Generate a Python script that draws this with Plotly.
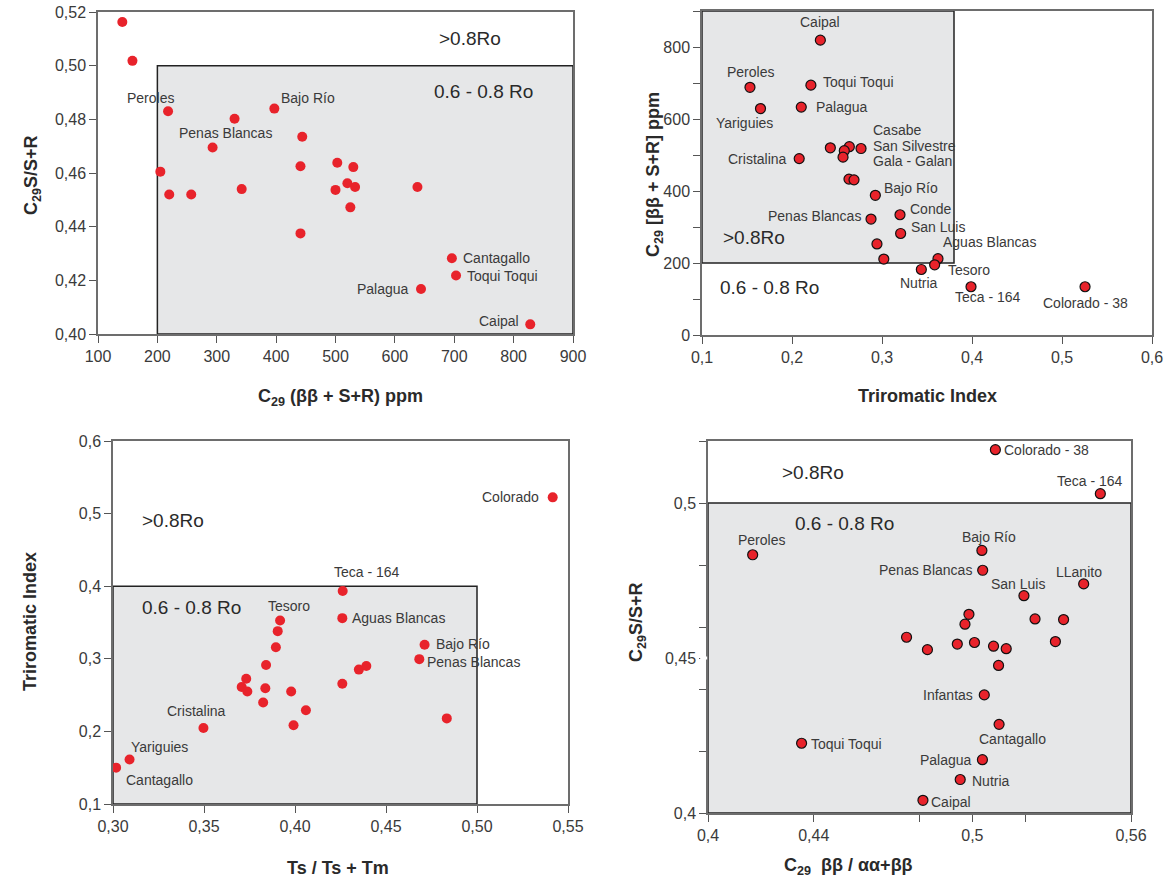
import plotly.graph_objects as go

# ---------------- data ----------------
# Panel 1: C29 (bb + S+R) ppm vs C29 S/S+R
p1_x = [141, 158, 218, 205, 220, 257, 293, 330, 342, 397, 444, 441, 441, 503, 530, 500, 520, 533, 525, 638, 696, 703, 644, 828]
p1_y = [0.5163, 0.5018, 0.4830, 0.4605, 0.4520, 0.4520, 0.4695, 0.4802, 0.4540, 0.4840, 0.4735, 0.4625, 0.4375, 0.4638, 0.4622, 0.4537, 0.4562, 0.4548, 0.4472, 0.4548, 0.4282, 0.4218, 0.4168, 0.4036]
p1_names = ["", "", "Peroles", "", "", "", "", "Penas Blancas", "", "Bajo Río", "", "", "", "", "", "", "", "", "", "",
            "Cantagallo", "Toqui Toqui", "Palagua", "Caipal"]

# Panel 2: Triromatic Index vs C29 [bb + S+R] ppm
p2_x = [0.2315, 0.1533, 0.2210, 0.1650, 0.2103, 0.2080, 0.2426, 0.2637, 0.2581, 0.2767, 0.2567, 0.2633, 0.2689,
        0.2926, 0.2878, 0.2944, 0.3020, 0.3200, 0.3207, 0.3622, 0.3585, 0.3437, 0.3989, 0.5256]
p2_y = [819, 688, 694, 629, 633, 490, 520, 523, 512, 518, 494, 433, 431,
        388, 322, 253, 211, 334, 282, 212, 195, 182, 134, 134]
p2_names = ["Caipal", "Peroles", "Toqui Toqui", "Yariguies", "Palagua", "Cristalina", "", "San Silvestre", "Gala - Galan",
            "Casabe", "", "", "", "Bajo Río", "Penas Blancas", "", "", "Conde", "San Luis", "Aguas Blancas", "Tesoro",
            "Nutria", "Teca - 164", "Colorado - 38"]

# Panel 3: Ts / Ts + Tm vs Triromatic Index
p3_x = [0.5416, 0.4262, 0.4260, 0.3918, 0.3905, 0.3895, 0.4712, 0.4683, 0.3841, 0.3732, 0.3707, 0.3738, 0.3837,
        0.3825, 0.3979, 0.3992, 0.4060, 0.4260, 0.4351, 0.4392, 0.4834, 0.3497, 0.3091, 0.3017]
p3_y = [0.5224, 0.3935, 0.3560, 0.3528, 0.3381, 0.3158, 0.3194, 0.2995, 0.2914, 0.2725, 0.2612, 0.2549, 0.2594,
        0.2399, 0.2549, 0.2084, 0.2291, 0.2657, 0.2851, 0.2901, 0.2179, 0.2047, 0.1614, 0.1501]
p3_names = ["Colorado", "Teca - 164", "Aguas Blancas", "Tesoro", "", "", "Bajo Río", "Penas Blancas", "", "", "", "", "",
            "", "", "", "", "", "", "", "", "Cristalina", "Yariguies", "Cantagallo"]

# Panel 4: C29 bb/(aa+bb) vs C29 S/S+R
p4_x = [0.4169, 0.5087, 0.5484, 0.5036, 0.5039, 0.5421, 0.5195, 0.4987, 0.4972, 0.5237, 0.5345, 0.4751, 0.5314,
        0.4943, 0.5008, 0.5080, 0.5128, 0.4830, 0.5099, 0.5045, 0.5101, 0.4354, 0.5038, 0.4954, 0.4813]
p4_y = [0.4833, 0.5172, 0.5030, 0.4847, 0.4783, 0.4739, 0.4701, 0.4641, 0.4609, 0.4626, 0.4624, 0.4567, 0.4553,
        0.4545, 0.4550, 0.4538, 0.4530, 0.4527, 0.4476, 0.4381, 0.4286, 0.4225, 0.4172, 0.4108, 0.4041]
p4_names = ["Peroles", "Colorado - 38", "Teca - 164", "Bajo Río", "Penas Blancas", "LLanito", "San Luis", "", "", "", "",
            "", "", "", "", "", "", "", "", "Infantas", "Cantagallo", "Toqui Toqui", "Palagua", "Nutria", "Caipal"]

# tick values
p2_ytick_major = [0, 200, 400, 600, 800]
p2_ytick_minor = [100, 300, 500, 700, 900]
p4_xtick_major = [0.40, 0.44, 0.50, 0.56]
p4_xtick_text = ["0,4", "0,44", "0,5", "0,56"]
p4_xtick_minor = [0.48, 0.52]
p4_ytick_major = [0.40, 0.45, 0.50]
p4_ytick_text = ["0,4", "0,45", "0,5"]
p4_ytick_minor = [0.42, 0.44, 0.46, 0.48, 0.52]

# label placement (anchor, dx px, dy px down)
p1_lab = {"Peroles": ("c", -18, -13), "Penas Blancas": ("c", -9, 14), "Bajo Río": ("l", 5, -11),
          "Cantagallo": ("l", 9, 0), "Toqui Toqui": ("l", 9, 0), "Palagua": ("r", -10, 0), "Caipal": ("r", -9, -3)}
p2_lab = {"Caipal": ("c", 0, -18), "Peroles": ("c", 1, -15), "Toqui Toqui": ("l", 10, -3), "Yariguies": ("c", -16, 14),
          "Palagua": ("l", 13, 0), "Cristalina": ("r", -10, 0), "Casabe": ("l", 10, -19), "San Silvestre": ("l", 22, -1),
          "Gala - Galan": ("l", 27, 10), "Bajo Río": ("l", 7, -7), "Penas Blancas": ("r", -8, -3),
          "Conde": ("l", 8, -6), "San Luis": ("l", 8, -6), "Aguas Blancas": ("l", 3, -17), "Tesoro": ("l", 11, 5),
          "Nutria": ("c", -2, 14), "Teca - 164": ("c", 17, 10), "Colorado - 38": ("c", 0, 16)}
p3_lab = {"Colorado": ("r", -12, 0), "Teca - 164": ("c", 24, -19), "Aguas Blancas": ("l", 8, 0), "Tesoro": ("c", 9, -14),
          "Bajo Río": ("l", 9, -1), "Penas Blancas": ("l", 6, 3), "Cristalina": ("c", -7, -17),
          "Yariguies": ("l", -1, -12), "Cantagallo": ("l", 8, 12)}
p4_lab = {"Peroles": ("c", 9, -15), "Colorado - 38": ("l", 7, 0), "Teca - 164": ("c", -10, -13), "Bajo Río": ("c", 7, -13),
          "Penas Blancas": ("r", -9, 0), "LLanito": ("c", -5, -12), "San Luis": ("c", -6, -12), "Infantas": ("r", -9, 0),
          "Cantagallo": ("c", 13, 15), "Toqui Toqui": ("l", 7, 1), "Palagua": ("r", -8, 0), "Nutria": ("l", 10, 1),
          "Caipal": ("l", 6, 2)}

# ---------------- figure ----------------
W, H = 1170, 881
RED = "#e8232b"
GREY_FILL = "#e6e7e8"
TXT = "#3a3a3a"
FONT = "Liberation Sans"

def px_dom(a, b, size):
    return [a / size, b / size]

def py_dom(top, bottom):
    return [1 - bottom / H, 1 - top / H]

fig = go.Figure()

panels = [
    dict(x=p1_x, y=p1_y, names=p1_names, lab=p1_lab, xa="x", ya="y", outline=False),
    dict(x=p2_x, y=p2_y, names=p2_names, lab=p2_lab, xa="x2", ya="y2", outline=True),
    dict(x=p3_x, y=p3_y, names=p3_names, lab=p3_lab, xa="x3", ya="y3", outline=False),
    dict(x=p4_x, y=p4_y, names=p4_names, lab=p4_lab, xa="x4", ya="y4", outline=True),
]

anchor_map = {"c": "center", "l": "left", "r": "right"}
annotations = []
for p in panels:
    fig.add_trace(go.Scatter(
        x=p["x"], y=p["y"], mode="markers", xaxis=p["xa"], yaxis=p["ya"],
        marker=dict(color=RED, size=10,
                    line=dict(color="#111", width=1.2 if p["outline"] else 0)),
        text=p["names"], hoverinfo="x+y+text", showlegend=False))
    for xv, yv, nm in zip(p["x"], p["y"], p["names"]):
        if not nm:
            continue
        a, dx, dy = p["lab"][nm]
        annotations.append(dict(x=xv, y=yv, xref=p["xa"], yref=p["ya"], text=nm, showarrow=False,
                                xanchor=anchor_map[a], yanchor="middle", xshift=dx, yshift=-dy,
                                font=dict(size=14, color=TXT, family=FONT)))

axis_common = dict(showgrid=False, zeroline=False, showline=True, linecolor="#6d6d6d", linewidth=1.5,
                   mirror=True, ticks="outside", ticklen=7, tickcolor="#555", tickwidth=1.2, automargin=False,
                   tickfont=dict(size=16, color=TXT, family=FONT))

def minor(vals):
    return dict(tickvals=vals, ticks="outside", ticklen=7, tickcolor="#555", tickwidth=1.2, showgrid=False)

layout = dict(
    width=W, height=H, autosize=False, margin=dict(l=0, r=0, t=0, b=0), paper_bgcolor="white", plot_bgcolor="white",
    separators=", ", showlegend=False,
    xaxis=dict(domain=px_dom(98, 573, W), range=[100, 900], tickvals=[100, 200, 300, 400, 500, 600, 700, 800, 900],
               anchor="y", **axis_common),
    yaxis=dict(domain=py_dom(12, 334), range=[0.40, 0.52], tickvals=[0.40, 0.42, 0.44, 0.46, 0.48, 0.50, 0.52],
               tickformat=".2f", anchor="x", **axis_common),
    xaxis2=dict(domain=px_dom(702, 1152, W), range=[0.1, 0.6], tickvals=[0.1, 0.2, 0.3, 0.4, 0.5, 0.6],
                tickformat=".1f", anchor="y2", **axis_common),
    yaxis2=dict(domain=py_dom(11, 335), range=[0, 900], tickvals=p2_ytick_major, minor=minor(p2_ytick_minor),
                anchor="x2", **axis_common),
    xaxis3=dict(domain=px_dom(113, 568, W), range=[0.30, 0.55], tickvals=[0.30, 0.35, 0.40, 0.45, 0.50, 0.55],
                tickformat=".2f", anchor="y3", **axis_common),
    yaxis3=dict(domain=py_dom(441, 804), range=[0.1, 0.6], tickvals=[0.1, 0.2, 0.3, 0.4, 0.5, 0.6],
                tickformat=".1f", anchor="x3", **axis_common),
    xaxis4=dict(domain=px_dom(708, 1131, W), range=[0.40, 0.56], tickvals=p4_xtick_major, ticktext=p4_xtick_text,
                minor=minor(p4_xtick_minor), anchor="y4", **axis_common),
    yaxis4=dict(domain=py_dom(441, 813), range=[0.40, 0.52], tickvals=p4_ytick_major, ticktext=p4_ytick_text,
                minor=minor(p4_ytick_minor), anchor="x4", **axis_common),
)
fig.update_layout(**layout)
# the 0,45 label in the original sits between tick marks: hide its tick mark by keeping label only
fig.update_yaxes(selector=dict(anchor="x4"))

# maturity boxes
boxes = [("x", "y", 200, 900, 0.40, 0.50), ("x2", "y2", 0.1, 0.38, 200, 900),
         ("x3", "y3", 0.30, 0.50, 0.1, 0.4), ("x4", "y4", 0.40, 0.56, 0.40, 0.50)]
for xr, yr, x0, x1, y0, y1 in boxes:
    fig.add_shape(type="rect", xref=xr, yref=yr, x0=x0, x1=x1, y0=y0, y1=y1,
                  fillcolor=GREY_FILL, line=dict(color="#222", width=1.5), layer="below")

# white cover for the tick mark at 0,45 (the original shows only the label there)
fig.add_shape(type="line", xref="x4 domain", yref="y4", x0=-0.0185, x1=-0.002, y0=0.45, y1=0.45,
              line=dict(color="white", width=3))

# region labels
regions = [("x", "y", 726, 0.5103, ">0.8Ro"), ("x", "y", 750, 0.4903, "0.6 - 0.8 Ro"),
           ("x2", "y2", 0.158, 272, ">0.8Ro"), ("x2", "y2", 0.175, 133, "0.6 - 0.8 Ro"),
           ("x3", "y3", 0.333, 0.491, ">0.8Ro"), ("x3", "y3", 0.343, 0.371, "0.6 - 0.8 Ro"),
           ("x4", "y4", 0.4397, 0.5097, ">0.8Ro"), ("x4", "y4", 0.4515, 0.4935, "0.6 - 0.8 Ro")]
for xr, yr, xv, yv, t in regions:
    annotations.append(dict(x=xv, y=yv, xref=xr, yref=yr, text=t, showarrow=False,
                            xanchor="center", yanchor="middle", font=dict(size=19, color="#2a2a2a", family=FONT)))

# axis titles
titles = [
    (340, 397, 0, "C<sub>29</sub> (ββ + S+R) ppm"),
    (33, 175, -90, "C<sub>29</sub>S/S+R"),
    (927, 396, 0, "Triromatic Index"),
    (655, 175, -90, "C<sub>29</sub> [ββ + S+R] ppm"),
    (338, 868, 0, "Ts / Ts + Tm"),
    (30, 622, -90, "Triromatic Index"),
    (848, 866, 0, "C<sub>29</sub>  ββ / αα+ββ"),
    (637, 622, -90, "C<sub>29</sub>S/S+R"),
]
for xp, yp, ang, t in titles:
    annotations.append(dict(x=xp / W, y=1 - yp / H, xref="paper", yref="paper", text="<b>" + t + "</b>",
                            showarrow=False, textangle=ang, xanchor="center", yanchor="middle",
                            font=dict(size=18, color="#2a2a2a", family=FONT)))

fig.update_layout(annotations=annotations)
fig.write_html("out.html")
